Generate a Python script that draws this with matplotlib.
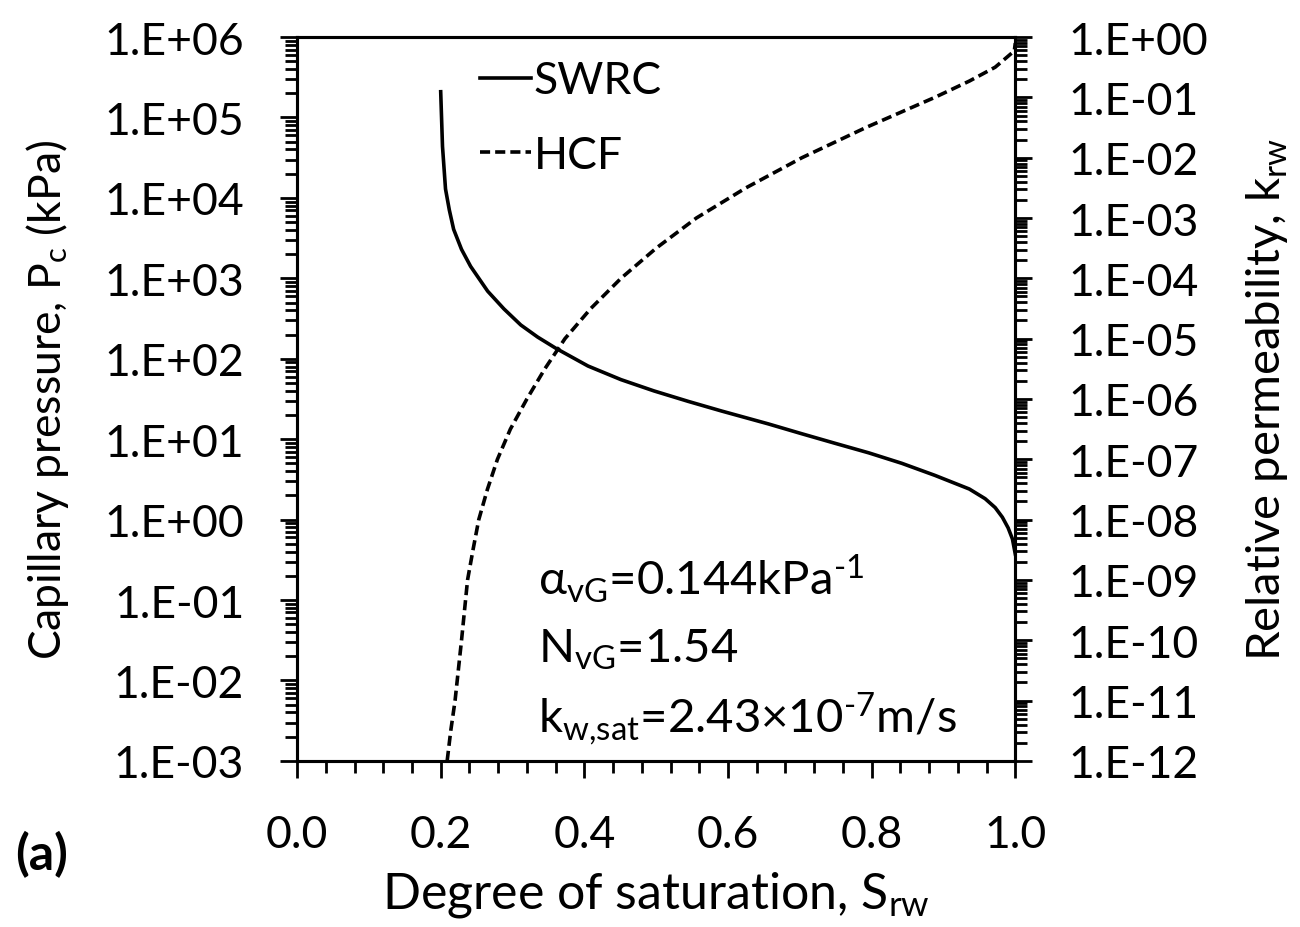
import matplotlib
matplotlib.use("Agg")
import matplotlib.pyplot as plt
import matplotlib.ticker as mticker
import numpy as np

plt.rcParams['font.family'] = ['Lato', 'DejaVu Sans']
plt.rcParams['mathtext.fontset'] = 'custom'
plt.rcParams['mathtext.rm'] = 'Lato'
plt.rcParams['mathtext.it'] = 'Lato:italic'
plt.rcParams['mathtext.bf'] = 'Lato:bold'

# SWRC: degree of saturation vs capillary pressure (kPa)
swrc_s = [0.200, 0.2025, 0.2067, 0.212, 0.218, 0.229, 0.2416, 0.2654, 0.288, 0.3115,
          0.335, 0.3603, 0.405, 0.451, 0.497, 0.5447, 0.591, 0.656, 0.7025, 0.7486,
          0.796, 0.842, 0.888, 0.936, 0.958, 0.972, 0.982, 0.990, 0.996, 1.000]
swrc_pc = [2.09e5, 4.37e4, 1.29e4, 7.08e3, 4.07e3, 2.29e3, 1.41e3, 692, 417, 263,
           186, 135, 81.3, 55.0, 39.8, 29.5, 22.4, 15.5, 11.7, 8.91,
           6.76, 5.01, 3.55, 2.40, 1.82, 1.41, 1.07, 0.79, 0.575, 0.372]

# HCF: degree of saturation vs relative permeability (log10 k_rw)
hcf_s = [0.2090, 0.214, 0.220, 0.2245, 0.229, 0.2374, 0.245, 0.253, 0.265, 0.279,
         0.297, 0.320, 0.345, 0.373, 0.409, 0.451, 0.500, 0.556, 0.625, 0.703,
         0.792, 0.888, 0.936, 0.972, 0.9986, 1.000]
hcf_log_kr = [-12.0, -11.5, -11.0, -10.5, -10.0, -9.0, -8.5, -8.0, -7.5, -7.0,
              -6.5, -6.0, -5.5, -5.0, -4.5, -4.0, -3.5, -3.0, -2.5, -2.0,
              -1.5, -1.0, -0.73, -0.50, -0.23, -0.10]

FS = 32
LW_AX = 2.2

fig = plt.figure(figsize=(13, 9.28), dpi=100)
ax = fig.add_axes([0.2285, 0.179, 0.5525, 0.780])
ax2 = ax.twinx()

l1, = ax.plot(swrc_s, swrc_pc, '-', color='black', lw=2.6, label='SWRC')
l2, = ax2.plot(hcf_s, 10.0 ** np.array(hcf_log_kr), color='black', lw=2.6,
               dashes=(2.8, 1.4), label='HCF')

ax.set_xlim(0, 1)
ax.set_yscale('log')
ax.set_ylim(1e-3, 1e6)
ax2.set_yscale('log')
ax2.set_ylim(1e-12, 1e0)

fmt = mticker.FuncFormatter(lambda v, p: "1.E{:+03d}".format(int(round(np.log10(v)))))
for a, lo, hi in [(ax, -3, 6), (ax2, -12, 0)]:
    a.yaxis.set_major_locator(mticker.FixedLocator([10.0 ** k for k in range(lo, hi + 1)]))
    a.yaxis.set_minor_locator(mticker.LogLocator(base=10, subs=np.arange(2, 10), numticks=50))
    a.yaxis.set_major_formatter(fmt)
    a.yaxis.set_minor_formatter(mticker.NullFormatter())

ax.xaxis.set_major_locator(mticker.MultipleLocator(0.2))
ax.xaxis.set_minor_locator(mticker.MultipleLocator(0.04))
ax.xaxis.set_major_formatter(mticker.FormatStrFormatter('%.1f'))

ax.tick_params(axis='both', which='major', direction='out', length=12, width=2,
               labelsize=FS, pad=26)
ax.tick_params(axis='both', which='minor', direction='out', length=8.5, width=2)
ax.tick_params(axis='x', top=False, which='both')
ax2.tick_params(axis='y', which='major', direction='out', length=12, width=2,
                labelsize=FS, pad=26)
ax2.tick_params(axis='y', which='minor', direction='out', length=8.5, width=2)

for a in (ax, ax2):
    for sp in a.spines.values():
        sp.set_linewidth(LW_AX)

ax.set_ylabel(r'Capillary pressure, $\mathregular{P_c}$ (kPa)', fontsize=FS, labelpad=24)
ax2.set_ylabel(r'Relative permeability, $\mathregular{k_{rw}}$', fontsize=34, labelpad=26)
ax.set_xlabel(r'Degree of saturation, $\mathregular{S_{rw}}$', fontsize=36, labelpad=10)

leg = ax.legend(handles=[l1, l2], loc='upper left', bbox_to_anchor=(0.255, 0.968),
                frameon=False, fontsize=FS, handlelength=1.15, handletextpad=0.05,
                labelspacing=0.75, borderpad=0, borderaxespad=0)

TFS = 34
ax.text(0.336, 0.231, r'$\mathregular{\alpha_{vG}}$=0.144kPa$\mathregular{^{\text{-}1}}$',
        transform=ax.transAxes, fontsize=TFS, va='baseline')
ax.text(0.336, 0.137, r'$\mathregular{N_{vG}}$=1.54',
        transform=ax.transAxes, fontsize=TFS, va='baseline')
ax.text(0.336, 0.041, r'$\mathregular{k_{w{,}sat}}$=2.43×10$\mathregular{^{\text{-}7}}$m/s',
        transform=ax.transAxes, fontsize=TFS, va='baseline')

fig.text(0.012, 0.079, '(a)', fontsize=36, fontweight='bold', va='center')

fig.savefig('out.png', dpi=100)
